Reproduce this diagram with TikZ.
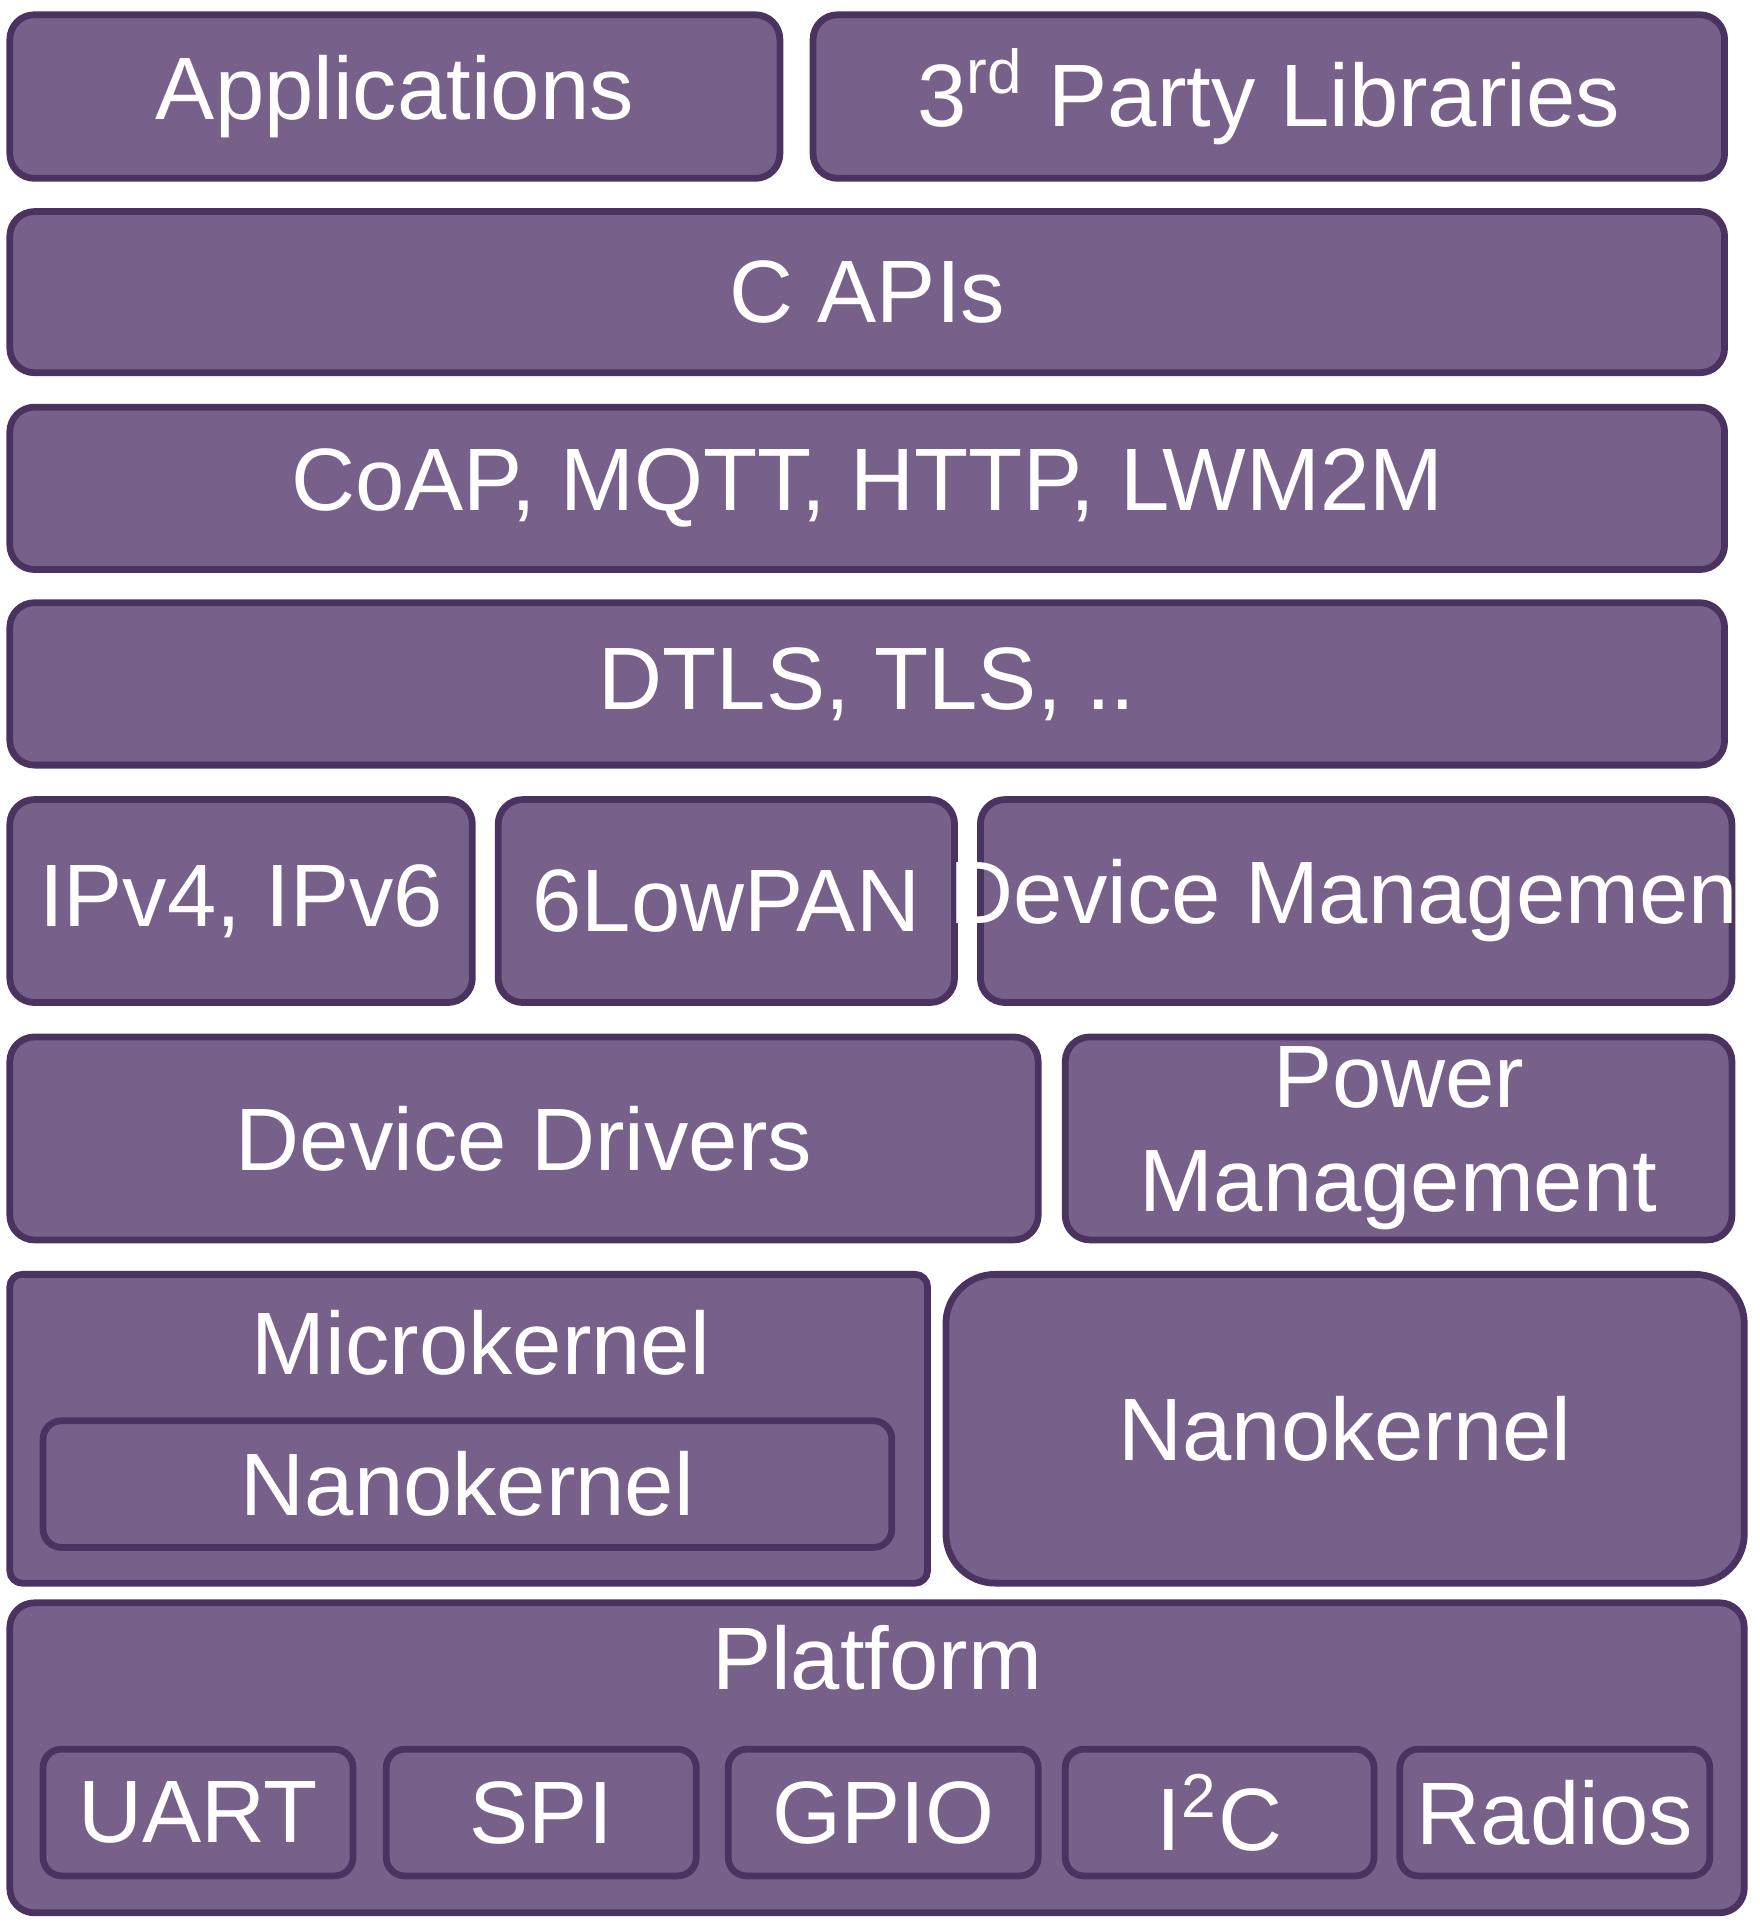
\documentclass[tikz,border=0pt]{standalone}
\usepackage{fontspec}
\setmainfont{Liberation Sans}
\definecolor{boxfill}{HTML}{77608A}
\definecolor{boxline}{HTML}{4A3360}
\begin{document}
\begin{tikzpicture}[x=0.1mm,y=-0.1mm,
  blk/.style={draw=boxline,line width=0.55mm,fill=boxfill,rounded corners=2mm},
  lbl/.style={text=white,font=\fontsize{20.5pt}{24pt}\selectfont,align=center}]
\useasboundingbox (0,0) rectangle (1430,1569);
\fill[white] (0,0) rectangle (1430,1569);
\newcommand{\blkbox}[7]{% name x1 y1 x2 y2 text style
  \draw[blk,#7] (#2,#3) rectangle (#4,#5);
  \node[lbl] (#1) at ({(#2+#4)/2},{(#3+#5)/2}) {#6};}
\blkbox{app}{8}{12}{634}{145}{Applications}{}
\blkbox{third}{661}{12}{1402}{145}{3\textsuperscript{rd} Party Libraries}{}
\blkbox{capi}{8}{172}{1402}{303}{C APIs}{}
\blkbox{coap}{8}{331}{1402}{463}{CoAP, MQTT, HTTP, LWM2M}{}
\blkbox{dtls}{8}{490}{1402}{622}{DTLS, TLS, ..}{}
\blkbox{ip}{8}{650}{384}{815}{IPv4, IPv6}{}
\blkbox{low}{405}{650}{776}{815}{6LowPAN}{}
\blkbox{dm}{797}{650}{1408}{815}{Device Management}{}
\blkbox{dd}{8}{843}{844}{1008}{Device Drivers}{}
\blkbox{pm}{866}{843}{1408}{1008}{Power\\Management}{}
\draw[blk,rounded corners=1mm] (8,1036) rectangle (754,1287);
\node[lbl] (mk) at (391,1092) {Microkernel};
\blkbox{nk1}{35}{1155}{725}{1258}{Nanokernel}{rounded corners=1.5mm}
\blkbox{nk2}{769}{1036}{1418}{1287}{Nanokernel}{rounded corners=4mm}
\draw[blk] (8,1303) rectangle (1418,1555);
\node[lbl] (plat) at (713,1348) {Platform};
\blkbox{uart}{35}{1422}{287}{1525}{UART}{rounded corners=1.5mm}
\blkbox{spi}{314}{1422}{566}{1525}{SPI}{rounded corners=1.5mm}
\blkbox{gpio}{592}{1422}{844}{1525}{GPIO}{rounded corners=1.5mm}
\blkbox{i2c}{866}{1422}{1117}{1525}{I\textsuperscript{2}C}{rounded corners=1.5mm}
\blkbox{rad}{1138}{1422}{1390}{1525}{Radios}{rounded corners=1.5mm}
\end{tikzpicture}
\end{document}
